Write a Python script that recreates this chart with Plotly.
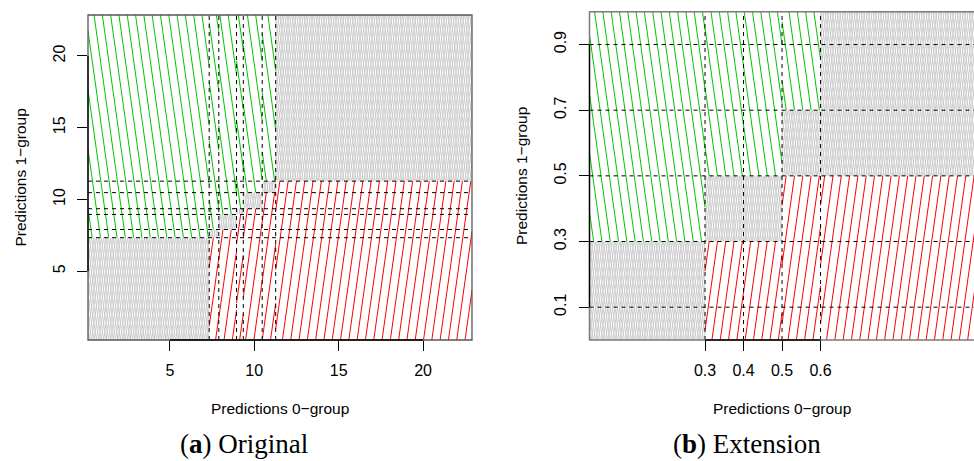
import numpy as np
import plotly.graph_objects as go

W, H = 974, 461

# ---------------- data: panel (a) Original ----------------
a_xrange = [0.15, 22.9]
a_yrange = [0.2, 22.85]
a_thresholds = [7.33, 7.9, 8.95, 9.35, 10.47, 11.27]
a_xticks = [5, 10, 15, 20]
a_yticks = [5, 10, 15, 20]
a_col_edges = [a_xrange[0]] + a_thresholds + [a_xrange[1]]
a_red_top = [a_yrange[0]] + a_thresholds
a_gray_top = a_thresholds + [a_yrange[1]]

# ---------------- data: panel (b) Extension ----------------
b_xrange = [0.0, 0.9985]
b_yrange = [0.0, 1.0]
b_xticks = [0.3, 0.4, 0.5, 0.6]
b_yticks = [0.1, 0.3, 0.5, 0.7, 0.9]
b_col_edges = [0.0, 0.3, 0.5, 0.6, 1.0]
b_red_top = [0.0, 0.3, 0.5, 0.5]
b_gray_top = [0.3, 0.5, 0.7, 1.0]

# pixel boxes of the two plot areas (left, right, top, bottom)
a_px = (88, 472, 15, 340)
b_px = (589.5, 974, 11.7, 340)

GREEN = "#00C400"
RED = "#FF0000"
GRAY = "#C4C4C4"
FONT = "Liberation Sans"


def hatch(x0, x1, y0, y1, xr, yr, px, angle, spacing, xs, ys):
    sx = (px[1] - px[0]) / (xr[1] - xr[0])
    sy = (px[3] - px[2]) / (yr[1] - yr[0])
    u0, u1 = (x0 - xr[0]) * sx, (x1 - xr[0]) * sx
    v0, v1 = (y0 - yr[0]) * sy, (y1 - yr[0]) * sy
    h = v1 - v0
    if h <= 0 or u1 <= u0:
        return
    k = 1.0 / np.tan(np.radians(angle))
    cmin = min(u0, u0 - k * h)
    cmax = max(u1, u1 - k * h)
    for c in np.arange(cmin + spacing * 0.5, cmax, spacing):
        ta = (u0 - c) / k
        tb = (u1 - c) / k
        tlo = max(0.0, min(ta, tb))
        thi = min(h, max(ta, tb))
        if thi - tlo > 0.3:
            for t in (tlo, thi):
                xs.append((c + k * t) / sx + xr[0])
                ys.append((v0 + t) / sy + yr[0])
            xs.append(None)
            ys.append(None)


def panel_traces(edges, red_top, gray_top, xr, yr, px, xaxis, yaxis):
    traces = []
    gx, gy, rx, ry, nx, ny = [], [], [], [], [], []
    for i in range(len(edges) - 1):
        xa, xb = edges[i], edges[i + 1]
        hatch(xa, xb, yr[0], red_top[i], xr, yr, px, 82, 8.3, rx, ry)
        hatch(xa, xb, red_top[i], gray_top[i], xr, yr, px, 82, 2.4, nx, ny)
        hatch(xa, xb, red_top[i], gray_top[i], xr, yr, px, 98, 2.4, nx, ny)
        hatch(xa, xb, gray_top[i], yr[1], xr, yr, px, 98, 8.3, gx, gy)
    for xs, ys, col, w in ((nx, ny, GRAY, 0.8), (rx, ry, RED, 1.0), (gx, gy, GREEN, 1.0)):
        traces.append(go.Scatter(x=xs, y=ys, mode="lines", xaxis=xaxis, yaxis=yaxis,
                                 line=dict(color=col, width=w), hoverinfo="skip",
                                 showlegend=False))
    return traces


fig = go.Figure()
for t in panel_traces(a_col_edges, a_red_top, a_gray_top, a_xrange, a_yrange, a_px, "x", "y"):
    fig.add_trace(t)
for t in panel_traces(b_col_edges, b_red_top, b_gray_top, b_xrange, b_yrange, b_px, "x2", "y2"):
    fig.add_trace(t)

shapes = []
dash = dict(color="black", width=1, dash="4px,4px")
for t in a_thresholds:
    shapes.append(dict(type="line", xref="x", yref="y domain", x0=t, x1=t, y0=0, y1=1, line=dash))
    shapes.append(dict(type="line", xref="x domain", yref="y", x0=0, x1=1, y0=t, y1=t, line=dash))
for t in b_xticks:
    shapes.append(dict(type="line", xref="x2", yref="y2 domain", x0=t, x1=t, y0=0, y1=1, line=dash))
for t in b_yticks:
    shapes.append(dict(type="line", xref="x2 domain", yref="y2", x0=0, x1=1, y0=t, y1=t, line=dash))
# boxes
shapes.append(dict(type="rect", xref="x domain", yref="y domain", x0=0, x1=1, y0=0, y1=1,
                   line=dict(color="#555555", width=1.3)))
shapes.append(dict(type="rect", xref="x2 domain", yref="y2 domain", x0=0, x1=1.01, y0=0, y1=1,
                   line=dict(color="#7a7a7a", width=1.5)))
# axis lines (R style: from first to last tick)
ax = dict(color="black", width=1.3)
shapes.append(dict(type="line", xref="x", yref="y domain", x0=a_xticks[0], x1=a_xticks[-1], y0=0, y1=0, line=ax))
shapes.append(dict(type="line", xref="x domain", yref="y", x0=0, x1=0, y0=a_yticks[0], y1=a_yticks[-1], line=ax))
shapes.append(dict(type="line", xref="x2", yref="y2 domain", x0=b_xticks[0], x1=b_xticks[-1], y0=0, y1=0, line=ax))
shapes.append(dict(type="line", xref="x2 domain", yref="y2", x0=0, x1=0, y0=b_yticks[0], y1=b_yticks[-1], line=ax))

tickfont = dict(family=FONT, size=16, color="black")
common = dict(showgrid=False, zeroline=False, showline=False, ticks="outside", ticklen=10,
              tickwidth=1, tickcolor="black", tickfont=tickfont, ticklabelstandoff=6)


def dom_x(p):
    return [p[0] / W, min(1.0, p[1] / W)]


def dom_y(p):
    return [(H - p[3]) / H, (H - p[2]) / H]


fig.update_layout(
    width=W, height=H, margin=dict(l=0, r=0, t=0, b=0),
    plot_bgcolor="white", paper_bgcolor="white",
    xaxis=dict(domain=dom_x(a_px), range=a_xrange, tickvals=a_xticks, anchor="y", **common),
    yaxis=dict(domain=dom_y(a_px), range=a_yrange, tickvals=a_yticks, anchor="x", tickangle=-90, **common),
    xaxis2=dict(domain=dom_x(b_px), range=b_xrange, tickvals=b_xticks,
                ticktext=[str(v) for v in b_xticks], anchor="y2", **common),
    yaxis2=dict(domain=dom_y(b_px), range=b_yrange, tickvals=b_yticks,
                ticktext=[str(v) for v in b_yticks], anchor="x2", tickangle=-90, **common),
    shapes=shapes,
)

tfont = dict(family=FONT, size=15.5, color="black")
cfont = dict(family="Liberation Serif", size=27, color="black")
ann = [
    dict(text="Predictions 0\u2212group", x=280, y=408, font=tfont),
    dict(text="Predictions 1\u2212group", x=20, y=177.5, font=tfont, textangle=-90),
    dict(text="Predictions 0\u2212group", x=782, y=408, font=tfont),
    dict(text="Predictions 1\u2212group", x=521, y=176, font=tfont, textangle=-90),
    dict(text="(<b>a</b>) Original", x=244, y=444, font=cfont),
    dict(text="(<b>b</b>) Extension", x=747, y=444, font=cfont),
]
for a in ann:
    a.update(xref="paper", yref="paper", showarrow=False, xanchor="center", yanchor="middle")
    a["x"] = a["x"] / W
    a["y"] = (H - a["y"]) / H
fig.update_layout(annotations=ann)

fig.write_html("out.html", config={"displayModeBar": False, "staticPlot": True},
               post_script="document.body.style.margin='0';document.body.style.overflow='hidden';")
